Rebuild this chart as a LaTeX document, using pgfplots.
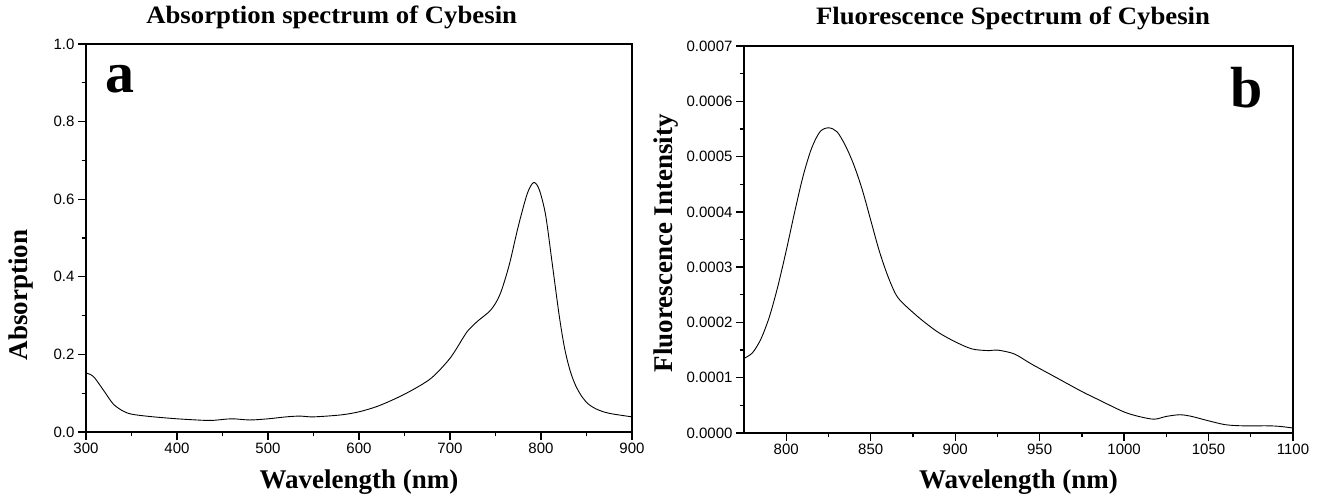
\documentclass[border=0pt]{standalone}
\usepackage{pgfplots}
\pgfplotsset{compat=1.18}
\usepackage{fontspec}
\setmainfont{Liberation Serif}
\newfontfamily\tickfont{Liberation Sans}
\newfontfamily\titlefont[FakeStretch=1.07]{Liberation Serif}

\pgfplotstableread{
x y
300 0.152
305 0.148
310 0.138
320 0.105
330 0.072
340 0.055
350 0.046
370 0.040
400 0.034
430 0.030
440 0.030
460 0.034
480 0.031
500 0.034
520 0.039
535 0.041
550 0.039
580 0.044
600 0.052
620 0.066
640 0.086
660 0.110
680 0.140
700 0.190
715 0.245
720 0.262
730 0.285
745 0.315
755 0.355
765 0.430
775 0.530
785 0.615
792 0.643
798 0.625
805 0.560
812 0.440
820 0.300
826 0.215
832 0.158
838 0.120
845 0.091
852 0.072
860 0.060
870 0.051
880 0.046
900 0.039
}\absdata

\pgfplotstableread{
x y
775 0.000135
780 0.000145
785 0.000170
790 0.000210
795 0.000265
800 0.000330
805 0.000400
810 0.000465
815 0.000515
820 0.000545
825 0.000552
830 0.000545
835 0.000520
840 0.000485
845 0.000440
850 0.000385
855 0.000330
860 0.000285
865 0.000250
870 0.000232
880 0.000205
890 0.000182
900 0.000165
910 0.000152
920 0.000149
925 0.000150
935 0.000143
945 0.000125
960 0.000100
975 0.000075
985 0.000060
1000 0.000038
1010 0.000029
1018 0.000025
1025 0.000030
1033 0.000033
1040 0.000030
1050 0.000022
1060 0.000015
1070 0.000013
1085 0.000013
1092 0.000012
1100 0.000009
}\fluodata

\pgfplotsset{
  common/.style={
    scale only axis,
    axis line style={line width=1.5bp},
    tick style={line width=1.3bp, black},
    major tick length=8bp,
    minor tick length=4.5bp,
    tick align=outside,
    xtick pos=left, ytick pos=left,
    tick label style={font=\tickfont\fontsize{15bp}{18bp}\selectfont},
    /pgf/number format/assume math mode=true,
    /pgf/number format/set thousands separator={},
    label style={font=\bfseries\fontsize{27bp}{30bp}\selectfont},
    title style={font=\titlefont\bfseries\fontsize{25bp}{28bp}\selectfont, anchor=center, yshift=0pt},
    every axis plot/.append style={black, line width=0.9bp, mark=none},
  }
}

\begin{document}
\begin{tikzpicture}[x=1bp,y=1bp]
\path[use as bounding box] (0,0) rectangle (1319,502);

\begin{axis}[common,
  at={(86bp,70bp)}, anchor=south west,
  width=546bp, height=388bp,
  xmin=300, xmax=900, ymin=0, ymax=1.0,
  xtick={300,400,500,600,700,800,900},
  ytick={0,0.2,0.4,0.6,0.8,1.0},
  minor x tick num=1, minor y tick num=1,
  yticklabel style={/pgf/number format/.cd, fixed, fixed zerofill, precision=1},
  scaled y ticks=false,
  title={Absorption spectrum of Cybesin},
  title style={at={(axis description cs:0.45,1.052)}},
  xlabel={Wavelength (nm)},
  xlabel style={at={(axis description cs:0.5,-0.128)}, anchor=center},
  ylabel={Absorption},
  ylabel style={at={(axis description cs:-0.119,0.353)}, anchor=center},
]
\addplot[smooth, tension=0.5] table[x=x,y=y] {\absdata};
\node[anchor=base west, inner sep=0pt, font=\bfseries\fontsize{58bp}{60bp}\selectfont] at (axis description cs:0.036,0.874) {a};
\end{axis}

\begin{axis}[common,
  at={(744bp,69bp)}, anchor=south west,
  width=549bp, height=387bp,
  xmin=775, xmax=1100, ymin=0, ymax=0.0007,
  xtick={800,850,900,950,1000,1050,1100},
  ytick={0,0.0001,0.0002,0.0003,0.0004,0.0005,0.0006,0.0007},
  minor x tick num=1, minor y tick num=1,
  yticklabel style={/pgf/number format/.cd, fixed, fixed zerofill, precision=4},
  scaled y ticks=false,
  title={Fluorescence Spectrum of Cybesin},
  title style={at={(axis description cs:0.49,1.057)}},
  xlabel={Wavelength (nm)},
  xlabel style={at={(axis description cs:0.5,-0.126)}, anchor=center},
  ylabel={Fluorescence Intensity},
  ylabel style={at={(axis description cs:-0.142,0.49)}, anchor=center},
]
\addplot[smooth, tension=0.5] table[x=x,y=y] {\fluodata};
\node[anchor=base west, inner sep=0pt, font=\bfseries\fontsize{58bp}{60bp}\selectfont] at (axis description cs:0.885,0.84) {b};
\end{axis}
\end{tikzpicture}
\end{document}
